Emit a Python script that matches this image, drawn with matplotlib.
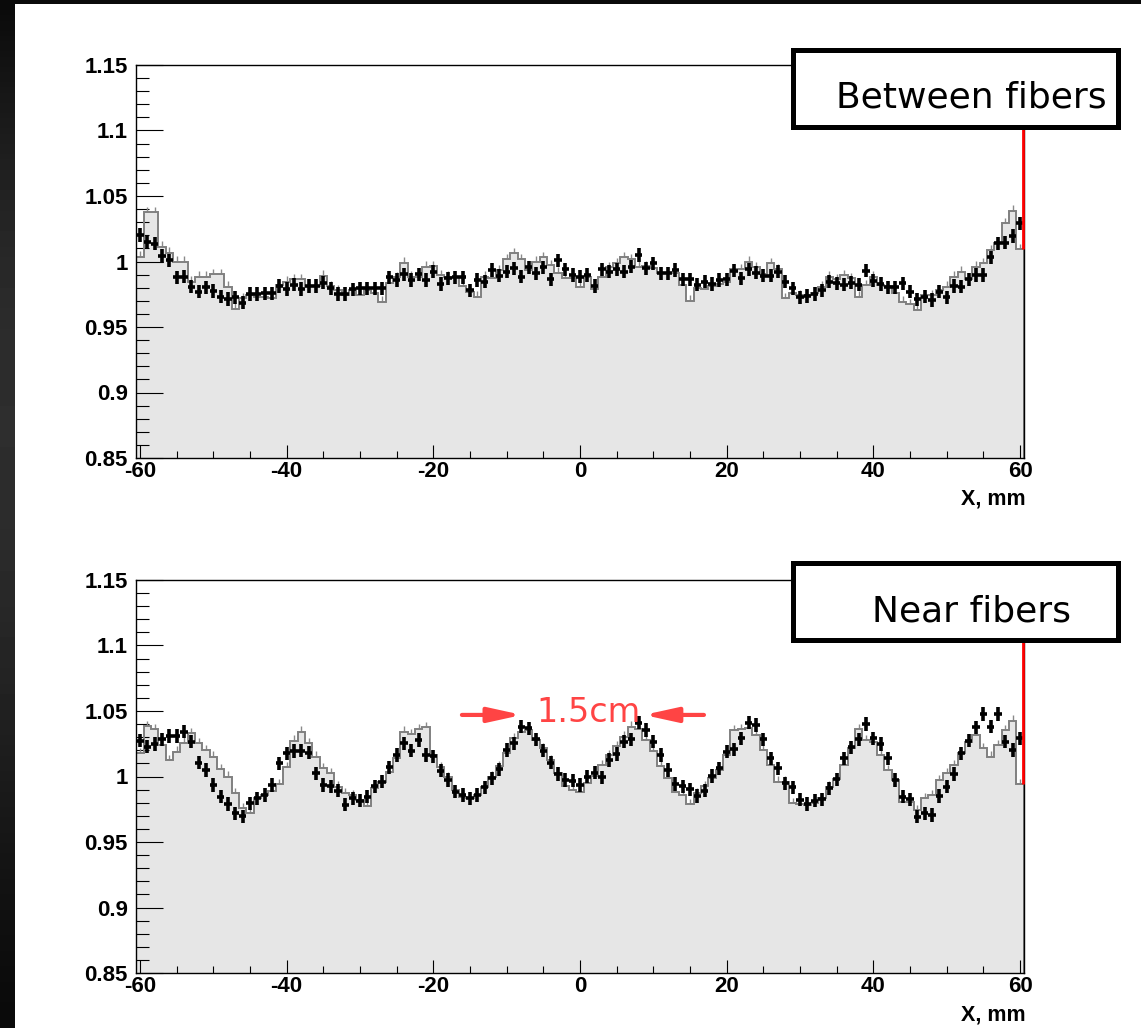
"""Light-yield profile across the scintillator: data vs simulation,
measured between fibers and near fibers.
"""
import matplotlib
matplotlib.use("Agg")
import matplotlib.pyplot as plt
from matplotlib.patches import Rectangle
from matplotlib.ticker import MultipleLocator, FuncFormatter
import numpy as np

# bin centres, mm (1 mm bins from -60.5 to 60.5)
x_mm = np.arange(-60, 61)

# ---- "Between fibers": measured points
between_data = [
    1.0202, 1.0151, 1.0134, 1.0042, 1.0011, 0.9879, 0.9884, 0.9808, 0.9770, 0.9803,
    0.9775, 0.9732, 0.9714, 0.9726, 0.9686, 0.9752, 0.9752, 0.9757, 0.9757, 0.9813,
    0.9790, 0.9821, 0.9790, 0.9813, 0.9813, 0.9838, 0.9795, 0.9752, 0.9752, 0.9788,
    0.9795, 0.9795, 0.9795, 0.9795, 0.9879, 0.9859, 0.9904, 0.9859, 0.9901, 0.9859,
    0.9922, 0.9828, 0.9872, 0.9879, 0.9879, 0.9782, 0.9859, 0.9846, 0.9935, 0.9892,
    0.9922, 0.9948, 0.9884, 0.9955, 0.9910, 0.9955, 0.9864, 1.0011, 0.9940, 0.9897,
    0.9884, 0.9897, 0.9813, 0.9940, 0.9922, 0.9940, 0.9922, 0.9961, 1.0050, 0.9948,
    0.9986, 0.9910, 0.9910, 0.9935, 0.9864, 0.9864, 0.9821, 0.9846, 0.9828, 0.9859,
    0.9864, 0.9930, 0.9872, 0.9940, 0.9915, 0.9892, 0.9890, 0.9922, 0.9846, 0.9795,
    0.9726, 0.9737, 0.9752, 0.9782, 0.9846, 0.9833, 0.9821, 0.9838, 0.9821, 0.9930,
    0.9854, 0.9828, 0.9803, 0.9803, 0.9833, 0.9770, 0.9712, 0.9732, 0.9706, 0.9770,
    0.9726, 0.9813, 0.9808, 0.9864, 0.9897, 0.9897, 1.0032, 1.0139, 1.0144, 1.0195,
    1.0291,
]

# ---- "Between fibers": simulation histogram
between_sim = [
    1.0037, 1.0375, 1.0375, 1.0113, 1.0067, 1.0000, 1.0000, 0.9846, 0.9884, 0.9884,
    0.9902, 0.9902, 0.9808, 0.9640, 0.9719, 0.9745, 0.9732, 0.9732, 0.9719, 0.9821,
    0.9846, 0.9864, 0.9864, 0.9813, 0.9813, 0.9892, 0.9813, 0.9782, 0.9745, 0.9782,
    0.9745, 0.9782, 0.9757, 0.9694, 0.9838, 0.9879, 0.9991, 0.9884, 0.9884, 0.9961,
    0.9966, 0.9897, 0.9884, 0.9884, 0.9813, 0.9770, 0.9732, 0.9884, 0.9872, 0.9935,
    1.0017, 1.0062, 1.0017, 0.9935, 1.0000, 1.0032, 0.9973, 0.9915, 0.9872, 0.9872,
    0.9808, 0.9879, 0.9788, 0.9884, 0.9955, 0.9986, 1.0032, 1.0017, 0.9961, 0.9966,
    0.9948, 0.9910, 0.9910, 0.9910, 0.9821, 0.9701, 0.9795, 0.9788, 0.9813, 0.9828,
    0.9846, 0.9940, 0.9940, 1.0000, 0.9955, 0.9904, 0.9986, 0.9940, 0.9719, 0.9757,
    0.9745, 0.9745, 0.9763, 0.9808, 0.9884, 0.9864, 0.9897, 0.9872, 0.9732, 0.9821,
    0.9884, 0.9821, 0.9813, 0.9757, 0.9694, 0.9676, 0.9630, 0.9745, 0.9745, 0.9782,
    0.9808, 0.9884, 0.9922, 0.9864, 0.9961, 0.9986, 1.0088, 1.0144, 1.0291, 1.0388,
    1.0093,
]

# ---- "Near fibers": measured points
near_data = [
    1.0274, 1.0228, 1.0248, 1.0284, 1.0309, 1.0309, 1.0342, 1.0266, 1.0106, 1.0050,
    0.9935, 0.9846, 0.9790, 0.9719, 0.9698, 0.9795, 0.9834, 0.9859, 0.9935, 1.0100,
    1.0177, 1.0195, 1.0197, 1.0182, 1.0024, 0.9935, 0.9927, 0.9892, 0.9783, 0.9834,
    0.9816, 0.9846, 0.9927, 0.9961, 1.0070, 1.0164, 1.0253, 1.0197, 1.0279, 1.0164,
    1.0156, 1.0045, 0.9973, 0.9884, 0.9859, 0.9834, 0.9859, 0.9917, 0.9986, 1.0055,
    1.0202, 1.0253, 1.0380, 1.0368, 1.0284, 1.0197, 1.0106, 1.0019, 0.9973, 0.9968,
    0.9935, 0.9999, 1.0029, 0.9994, 1.0126, 1.0172, 1.0266, 1.0284, 1.0411, 1.0355,
    1.0266, 1.0164, 1.0050, 0.9943, 0.9927, 0.9902, 0.9851, 0.9892, 1.0004, 1.0062,
    1.0189, 1.0207, 1.0291, 1.0411, 1.0393, 1.0284, 1.0139, 1.0062, 0.9948, 0.9917,
    0.9821, 0.9790, 0.9816, 0.9826, 0.9910, 0.9978, 1.0139, 1.0223, 1.0284, 1.0401,
    1.0291, 1.0248, 1.0139, 0.9973, 0.9846, 0.9826, 0.9693, 0.9719, 0.9706, 0.9851,
    0.9922, 1.0019, 1.0177, 1.0274, 1.0375, 1.0477, 1.0380, 1.0477, 1.0266, 1.0202,
    1.0291,
]

# ---- "Near fibers": simulation histogram
near_sim = [
    1.0177, 1.0385, 1.0360, 1.0240, 1.0126, 1.0190, 1.0258, 1.0330, 1.0253, 1.0202,
    1.0151, 1.0055, 1.0000, 0.9872, 0.9757, 0.9719, 0.9834, 0.9859, 0.9892, 0.9943,
    1.0070, 1.0274, 1.0342, 1.0253, 1.0151, 1.0062, 1.0024, 0.9922, 0.9872, 0.9859,
    0.9821, 0.9775, 0.9910, 0.9961, 1.0037, 1.0139, 1.0342, 1.0324, 1.0360, 1.0375,
    1.0164, 1.0070, 0.9994, 0.9897, 0.9846, 0.9834, 0.9859, 0.9922, 0.9999, 1.0080,
    1.0177, 1.0291, 1.0342, 1.0355, 1.0279, 1.0215, 1.0126, 1.0029, 0.9927, 0.9897,
    0.9884, 0.9948, 1.0004, 1.0088, 1.0164, 1.0233, 1.0304, 1.0380, 1.0360, 1.0279,
    1.0197, 1.0080, 0.9986, 0.9884, 0.9859, 0.9790, 0.9872, 0.9927, 0.9986, 1.0050,
    1.0164, 1.0355, 1.0360, 1.0368, 1.0317, 1.0202, 1.0088, 0.9961, 0.9961, 0.9795,
    0.9790, 0.9783, 0.9801, 0.9834, 0.9922, 0.9978, 1.0088, 1.0215, 1.0360, 1.0279,
    1.0266, 1.0164, 1.0050, 0.9973, 0.9808, 0.9808, 0.9744, 0.9834, 0.9859, 0.9973,
    1.0024, 1.0088, 1.0177, 1.0266, 1.0317, 1.0215, 1.0151, 1.0240, 1.0355, 1.0426,
    0.9943,
]

panel_labels = ["Between fibers", "Near fibers"]
y_lo, y_hi = 0.85, 1.15
x_lo, x_hi = -60.5, 60.5

W, H = 1141, 1028
fig = plt.figure(figsize=(W / 100, H / 100), dpi=100)

# dark slide background with a white panel on top
bg = fig.add_axes([0, 0, 1, 1], zorder=0)
yy = np.linspace(0, 1, 200)[:, None]
xx = np.linspace(0, 1, 50)[None, :]
grad = 0.04 + 0.14 * np.sin(np.pi * (1 - yy) ** 1.3) * (1 - 0.6 * xx)
bg.imshow(grad, cmap="gray", vmin=0, vmax=1, aspect="auto", extent=[0, 1, 0, 1])
bg.set_xlim(0, 1)
bg.set_ylim(0, 1)
bg.axis("off")
fig.add_artist(Rectangle((15 / W, 0), 1, (H - 4) / H, transform=fig.transFigure,
                         facecolor="white", edgecolor="none", zorder=1))

panels = [
    (between_data, between_sim, 458),   # axes bottom edge, px from top
    (near_data, near_sim, 973),
]
edges = np.arange(-60.5, 61.0, 1.0)
axes = []
for i, (data, sim, ybot) in enumerate(panels):
    ax = fig.add_axes([136.3 / W, 1 - ybot / H, 887.4 / W, 393 / H], zorder=2)
    axes.append(ax)
    sim = np.asarray(sim)

    ax.stairs(sim, edges, baseline=y_lo, fill=True, color="#e6e6e6", zorder=1)
    ax.vlines(x_mm, sim, sim + 0.004, color="#8a8a8a", lw=1.0, zorder=2)
    ax.stairs(sim, edges, baseline=y_lo, fill=False, color="#808080", lw=1.4, zorder=3)
    ax.errorbar(x_mm, data, xerr=0.5, yerr=0.005, fmt="none", ecolor="black",
                elinewidth=2.6, capsize=0, zorder=5)
    ax.vlines(x_hi - 0.08, sim[-1], y_hi, color="red", lw=2.0, zorder=8, clip_on=False)

    ax.set_xlim(x_lo, x_hi)
    ax.set_ylim(y_lo, y_hi)
    ax.xaxis.set_major_locator(MultipleLocator(20))
    ax.xaxis.set_minor_locator(MultipleLocator(5))
    ax.yaxis.set_major_locator(MultipleLocator(0.05))
    ax.yaxis.set_minor_locator(MultipleLocator(0.01))
    ax.yaxis.set_major_formatter(FuncFormatter(lambda v, _: f"{round(v, 2):g}"))
    ax.xaxis.set_major_formatter(FuncFormatter(lambda v, _: f"{round(v):d}"))
    ax.tick_params(axis="both", which="both", direction="in", top=False, right=False,
                   width=0.8, colors="black")
    ax.tick_params(axis="y", which="major", length=19.5, pad=6)
    ax.tick_params(axis="y", which="minor", length=9.5)
    ax.tick_params(axis="x", which="major", length=9.5, pad=2)
    ax.tick_params(axis="x", which="minor", length=5)
    for lab in ax.get_xticklabels() + ax.get_yticklabels():
        lab.set_fontfamily("Liberation Sans")
        lab.set_fontweight("bold")
        lab.set_fontsize(16)
    for sp in ax.spines.values():
        sp.set_linewidth(1.0)
        sp.set_zorder(6)

    fig.text(1026 / W, 1 - (ybot + 47) / H, "X, mm", ha="right", va="baseline",
             family="Liberation Sans", weight="bold", fontsize=15.5, zorder=3)

    # label box in the top-right corner
    btop = 50 if i == 0 else 563
    fig.add_artist(Rectangle((793 / W, 1 - (btop + 77) / H), 325 / W, 77 / H,
                             transform=fig.transFigure, facecolor="white",
                             edgecolor="black", lw=3.6, zorder=10))
    fig.text(971.5 / W, 1 - (btop + 58) / H, panel_labels[i], ha="center",
             va="baseline", family="DejaVu Sans", fontsize=26, zorder=11)

# fibre pitch annotation on the lower panel
ax2 = axes[1]
red = "#ff4444"
arrow = dict(arrowstyle="-|>,head_length=1.0,head_width=0.22", color=red, lw=3.0,
             shrinkA=0, shrinkB=0, mutation_scale=20)
ax2.annotate("", xy=(-7.9, 1.047), xytext=(-16.1, 1.047), arrowprops=arrow, zorder=7)
ax2.annotate("", xy=(8.7, 1.047), xytext=(16.9, 1.047), arrowprops=arrow, zorder=7)
ax2.text(1.1, 1.0418, "1.5cm", color=red, fontsize=24, ha="center", va="baseline",
         family="DejaVu Sans", zorder=7)

fig.savefig("out.png", dpi=100)
plt.close(fig)
